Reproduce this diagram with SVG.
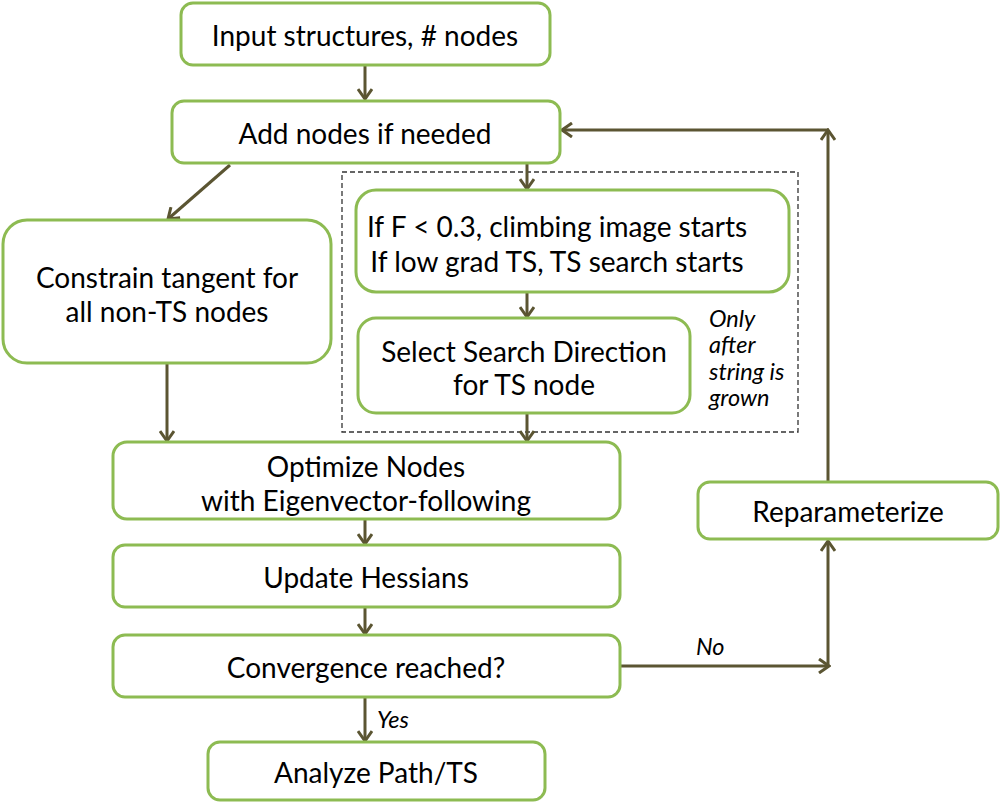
<svg xmlns="http://www.w3.org/2000/svg" width="1000" height="805" viewBox="0 0 1000 805">
<style>
.box{fill:#fff;stroke:#8dbb52;stroke-width:3}
.t{font-family:Lato,"Open Sans","Liberation Sans",sans-serif;font-size:28px;fill:#000;text-anchor:middle}
.i{font-family:Lato,"Open Sans","Liberation Sans",sans-serif;font-size:23.5px;font-style:italic;fill:#000}
.c{fill:none;stroke:#5b5532;stroke-width:3}
</style>
<defs>
<marker id="ah" viewBox="0 0 16 16" refX="14" refY="8" markerWidth="16" markerHeight="16" markerUnits="userSpaceOnUse" orient="auto">
<polyline points="4,1 14,8 4,15" fill="none" stroke="#5b5532" stroke-width="3"/>
</marker>
</defs>
<rect x="0" y="0" width="1000" height="805" fill="#fff"/>
<rect x="342" y="172" width="456" height="260" fill="none" stroke="#333" stroke-width="1.3" stroke-dasharray="5,3"/>
<g id="connectors">
<line class="c" x1="365" y1="65" x2="365" y2="99" marker-end="url(#ah)"/>
<line class="c" x1="230" y1="165" x2="168" y2="219" marker-end="url(#ah)"/>
<line class="c" x1="527" y1="163" x2="527" y2="189" marker-end="url(#ah)"/>
<line class="c" x1="527" y1="292" x2="527" y2="317" marker-end="url(#ah)"/>
<line class="c" x1="527" y1="413" x2="527" y2="441" marker-end="url(#ah)"/>
<line class="c" x1="167" y1="363" x2="167" y2="441" marker-end="url(#ah)"/>
<line class="c" x1="365" y1="519" x2="365" y2="544" marker-end="url(#ah)"/>
<line class="c" x1="365" y1="607" x2="365" y2="634" marker-end="url(#ah)"/>
<line class="c" x1="365" y1="697" x2="365" y2="741" marker-end="url(#ah)"/>
<line class="c" x1="620" y1="666" x2="829" y2="666" marker-end="url(#ah)"/>
<line class="c" x1="828" y1="666" x2="828" y2="541" marker-end="url(#ah)"/>
<line class="c" x1="828" y1="482" x2="828" y2="130" marker-end="url(#ah)"/>
<line class="c" x1="828" y1="130" x2="562" y2="130" marker-end="url(#ah)"/>
<text class="i" x="696" y="655">No</text>
<text class="i" x="377" y="728">Yes</text>
</g>
<g id="n1"><rect class="box" x="181" y="3" width="369" height="62" rx="12"/><text class="t" x="365" y="46">Input structures, # nodes</text></g>
<g id="n2"><rect class="box" x="172" y="101" width="388" height="62" rx="12"/><text class="t" x="365" y="144">Add nodes if needed</text></g>
<g id="n3"><rect class="box" x="3" y="220" width="328" height="143" rx="24"/><text class="t" x="167" y="288">Constrain tangent for</text><text class="t" x="167" y="322">all non-TS nodes</text></g>
<g id="n4"><rect class="box" x="356" y="190" width="433" height="102" rx="20"/><text class="t" x="557" y="237">If F &lt; 0.3, climbing image starts</text><text class="t" x="557" y="272">If low grad TS, TS search starts</text></g>
<g id="n5"><rect class="box" x="358" y="318" width="332" height="95" rx="18"/><text class="t" x="524" y="362">Select Search Direction</text><text class="t" x="524" y="395">for TS node</text></g>
<g id="note"><text class="i" x="709" y="327">Only</text><text class="i" x="709" y="353">after</text><text class="i" x="709" y="380">string is</text><text class="i" x="709" y="406">grown</text></g>
<g id="n6"><rect class="box" x="113" y="442" width="507" height="77" rx="14"/><text class="t" x="366" y="477">Optimize Nodes</text><text class="t" x="366" y="511">with Eigenvector-following</text></g>
<g id="n7"><rect class="box" x="113" y="545" width="507" height="62" rx="12"/><text class="t" x="366" y="588">Update Hessians</text></g>
<g id="n8"><rect class="box" x="113" y="635" width="507" height="62" rx="12"/><text class="t" x="366" y="678">Convergence reached?</text></g>
<g id="n9"><rect class="box" x="698" y="482" width="300" height="57" rx="12"/><text class="t" x="848" y="522">Reparameterize</text></g>
<g id="n10"><rect class="box" x="208" y="742" width="337" height="58" rx="12"/><text class="t" x="376" y="783">Analyze Path/TS</text></g>
</svg>
